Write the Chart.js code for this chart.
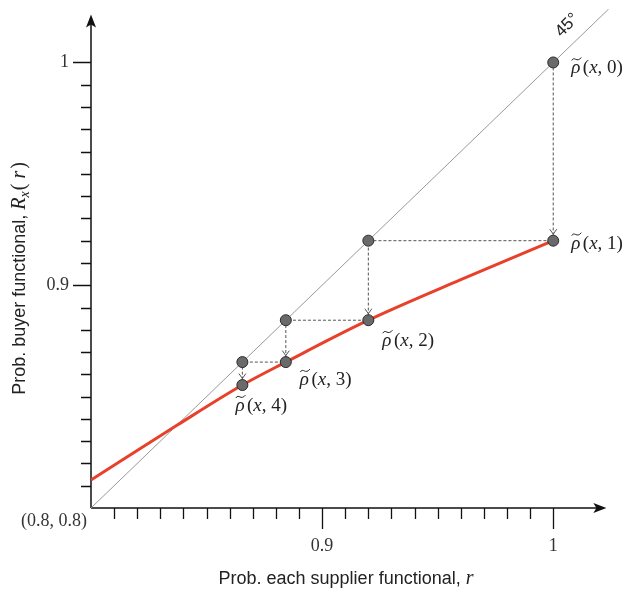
<!DOCTYPE html>
<html>
<head>
<meta charset="utf-8">
<script src="https://cdn.jsdelivr.net/npm/chart.js@4"></script>
<style>
  body { margin: 0; background: #fff; }
</style>
</head>
<body>
<canvas id="chart" width="623" height="590"></canvas>
<script>
// Red curve R_x(r)
var curveR = [0.8, 0.837, 0.8655, 0.8843, 0.92, 0.96, 1];
var curveRx = [0.8126, 0.837, 0.8552, 0.8655, 0.8843, 0.9025, 0.92];

// Iterates rho~(x, n), n = 0..4
var rho = [1, 0.92, 0.8843, 0.8655, 0.8552];

// 45 degree line ends
var diagonal = [0.8, 1.024];

// Tick labels
var xTickValues = [0.9, 1];
var xTickLabels = ['0.9', '1'];
var yTickValues = [0.9, 1];
var yTickLabels = ['0.9', '1'];
var originLabel = '(0.8, 0.8)';

var serif = '"Liberation Serif", "DejaVu Serif", serif';
var sans = '"Liberation Sans", Arial, sans-serif';

// Points: on the diagonal and on the curve
var diagPts = [];
var curvePts = [];
for (var i = 0; i < rho.length - 1; i++) {
  diagPts.push({ x: rho[i], y: rho[i] });
  curvePts.push({ x: rho[i], y: rho[i + 1] });
}

// Cobweb path: down to the curve, across to the diagonal, down again...
var cobweb = [{ x: rho[0], y: rho[0] }];
for (var i = 0; i < rho.length - 1; i++) {
  cobweb.push({ x: rho[i], y: rho[i + 1] });
  if (i < rho.length - 2) cobweb.push({ x: rho[i + 1], y: rho[i + 1] });
}

var curveData = curveR.map(function (r, i) { return { x: r, y: curveRx[i] }; });

function drawRhoLabel(ctx, x, y, n) {
  ctx.fillStyle = '#222';
  ctx.textAlign = 'left';
  ctx.textBaseline = 'alphabetic';
  ctx.font = 'italic 19px ' + serif;
  ctx.fillText('\u03c1', x, y);
  var w = ctx.measureText('\u03c1').width;
  // tilde over rho
  var tb = y - 14;
  ctx.beginPath();
  ctx.moveTo(x + 0.5, tb + 1);
  ctx.bezierCurveTo(x + w * 0.35, tb - 4, x + w * 0.6, tb + 4, x + w + 1, tb - 2);
  ctx.strokeStyle = '#222';
  ctx.lineWidth = 1;
  ctx.stroke();
  var cx = x + w + 2.5;
  ctx.font = '19px ' + serif;
  ctx.fillText('(', cx, y);
  cx += ctx.measureText('(').width;
  ctx.font = 'italic 19px ' + serif;
  ctx.fillText('x', cx, y);
  cx += ctx.measureText('x').width;
  ctx.font = '19px ' + serif;
  ctx.fillText(', ' + n + ')', cx, y);
}

var axesPlugin = {
  id: 'axesPlugin',
  beforeDatasetsDraw: function (chart) {
    var ctx = chart.ctx;
    var xs = chart.scales.x, ys = chart.scales.y;
    var x0 = xs.getPixelForValue(0.8), y0 = ys.getPixelForValue(0.8);
    var xEnd = xs.getPixelForValue(1.023), yEnd = ys.getPixelForValue(1.0215);
    ctx.save();
    ctx.strokeStyle = '#111';
    ctx.fillStyle = '#111';
    ctx.lineWidth = 1.5;
    ctx.beginPath();
    ctx.moveTo(x0, y0);
    ctx.lineTo(xEnd - 6, y0);
    ctx.moveTo(x0, y0);
    ctx.lineTo(x0, yEnd + 6);
    ctx.stroke();
    // arrowheads
    ctx.beginPath();
    ctx.moveTo(xEnd, y0);
    ctx.lineTo(xEnd - 13, y0 - 5);
    ctx.lineTo(xEnd - 10, y0);
    ctx.lineTo(xEnd - 13, y0 + 5);
    ctx.closePath();
    ctx.fill();
    ctx.beginPath();
    ctx.moveTo(x0, yEnd);
    ctx.lineTo(x0 - 5, yEnd + 13);
    ctx.lineTo(x0, yEnd + 10);
    ctx.lineTo(x0 + 5, yEnd + 13);
    ctx.closePath();
    ctx.fill();

    // ticks every 0.01
    ctx.lineWidth = 1.3;
    ctx.beginPath();
    for (var k = 1; k <= 20; k++) {
      var v = 0.8 + k * 0.01;
      var major = (k % 10 === 0);
      var px = Math.round(xs.getPixelForValue(v)) + 0.5;
      ctx.moveTo(px, y0);
      ctx.lineTo(px, y0 + (major ? 21 : 11));
      var py = Math.round(ys.getPixelForValue(v)) + 0.5;
      ctx.moveTo(x0, py);
      ctx.lineTo(x0 - (major ? 18 : 10), py);
    }
    ctx.stroke();

    // tick labels
    ctx.fillStyle = '#333';
    ctx.font = '18px ' + serif;
    ctx.textAlign = 'center';
    ctx.textBaseline = 'middle';
    xTickValues.forEach(function (v, i) {
      ctx.fillText(xTickLabels[i], xs.getPixelForValue(v), y0 + 38);
    });
    ctx.textAlign = 'right';
    yTickValues.forEach(function (v, i) {
      ctx.fillText(yTickLabels[i], x0 - 22, ys.getPixelForValue(v));
    });
    ctx.fillText(originLabel, x0 - 4, y0 + 13);

    // x title
    ctx.fillStyle = '#222';
    ctx.textBaseline = 'alphabetic';
    ctx.textAlign = 'left';
    var t1 = 'Prob. each supplier functional, ';
    ctx.font = '18px ' + sans;
    var w1 = ctx.measureText(t1).width;
    ctx.font = 'italic 20px ' + serif;
    var w2 = ctx.measureText('r').width;
    var sx = 346 - (w1 + w2) / 2;
    ctx.font = '18px ' + sans;
    ctx.fillText(t1, sx, 584);
    ctx.font = 'italic 20px ' + serif;
    ctx.fillText('r', sx + w1, 584);

    // y title
    ctx.save();
    ctx.translate(25, 280);
    ctx.rotate(-Math.PI / 2);
    var yt = 'Prob. buyer functional, ';
    ctx.font = '18px ' + sans;
    var a = ctx.measureText(yt).width;
    ctx.font = 'italic 20px ' + serif;
    var b = ctx.measureText('R').width;
    ctx.font = 'italic 14px ' + serif;
    var c = ctx.measureText('x').width;
    ctx.font = '20px ' + serif;
    var d = ctx.measureText('( )').width;
    ctx.font = 'italic 20px ' + serif;
    var e = ctx.measureText('r').width;
    var tot = a + b + c + d + e;
    var cx = -tot / 2;
    ctx.font = '18px ' + sans;
    ctx.fillText(yt, cx, 0); cx += a;
    ctx.font = 'italic 20px ' + serif;
    ctx.fillText('R', cx, 0); cx += b;
    ctx.font = 'italic 14px ' + serif;
    ctx.fillText('x', cx, 4); cx += c + 1;
    ctx.font = '20px ' + serif;
    ctx.fillText('(', cx, 0); cx += ctx.measureText('( ').width;
    ctx.font = 'italic 20px ' + serif;
    ctx.fillText('r', cx, 0); cx += e + 2;
    ctx.font = '20px ' + serif;
    ctx.fillText(')', cx, 0);
    ctx.restore();

    // 45 degree label
    var dx = xs.getPixelForValue(1.0095), dy = ys.getPixelForValue(1.0095);
    ctx.save();
    ctx.translate(dx - 8, dy - 16);
    ctx.rotate(-Math.PI / 4);
    ctx.font = '17px ' + sans;
    ctx.textAlign = 'center';
    ctx.textBaseline = 'middle';
    ctx.fillStyle = '#222';
    ctx.fillText('45\u00b0', 0, 0);
    ctx.restore();
    ctx.restore();
  },
  afterDatasetsDraw: function (chart) {
    var ctx = chart.ctx;
    var xs = chart.scales.x, ys = chart.scales.y;
    ctx.save();
    // small arrowheads at the ends of the vertical dashed steps
    ctx.strokeStyle = '#555';
    ctx.lineWidth = 1;
    for (var i = 0; i < rho.length - 1; i++) {
      var px = xs.getPixelForValue(rho[i]);
      var py = ys.getPixelForValue(rho[i + 1]) - 6.5;
      ctx.beginPath();
      ctx.moveTo(px - 3.5, py - 5);
      ctx.lineTo(px, py);
      ctx.lineTo(px + 3.5, py - 5);
      ctx.stroke();
    }
    // rho labels
    var offs = [[18, 11], [18, 8], [14, 26], [14, 23], [-7, 26]];
    for (var n = 0; n < rho.length; n++) {
      var rx = n === 0 ? rho[0] : rho[n - 1];
      var ry = rho[n];
      var lx = xs.getPixelForValue(rx) + offs[n][0];
      var ly = ys.getPixelForValue(ry) + offs[n][1];
      drawRhoLabel(ctx, lx, ly, n);
    }
    ctx.restore();
  }
};

var config = {
  type: 'scatter',
  data: {
    datasets: [
      {
        label: 'points',
        data: diagPts.concat(curvePts),
        showLine: false,
        pointRadius: 5.5,
        pointBackgroundColor: '#6a6a6a',
        pointBorderColor: '#2a2a2a',
        pointBorderWidth: 1
      },
      {
        label: 'cobweb',
        data: cobweb,
        showLine: true,
        borderColor: '#555',
        borderWidth: 1,
        borderDash: [3, 2],
        pointRadius: 0
      },
      {
        label: 'R_x(r)',
        data: curveData,
        showLine: true,
        borderColor: '#e8412b',
        borderWidth: 3,
        cubicInterpolationMode: 'monotone',
        pointRadius: 0
      },
      {
        label: '45',
        data: [{ x: diagonal[0], y: diagonal[0] }, { x: diagonal[1], y: diagonal[1] }],
        showLine: true,
        borderColor: '#999',
        borderWidth: 1,
        pointRadius: 0
      }
    ]
  },
  options: {
    responsive: false,
    animation: false,
    layout: { padding: { left: 91, right: 12, top: 9, bottom: 82 } },
    plugins: { legend: { display: false }, tooltip: { enabled: false } },
    scales: {
      x: { type: 'linear', min: 0.8, max: 1.025, display: false },
      y: { type: 'linear', min: 0.8, max: 1.024, display: false }
    }
  },
  plugins: [axesPlugin]
};

new Chart(document.getElementById('chart').getContext('2d'), config);
</script>
</body>
</html>
